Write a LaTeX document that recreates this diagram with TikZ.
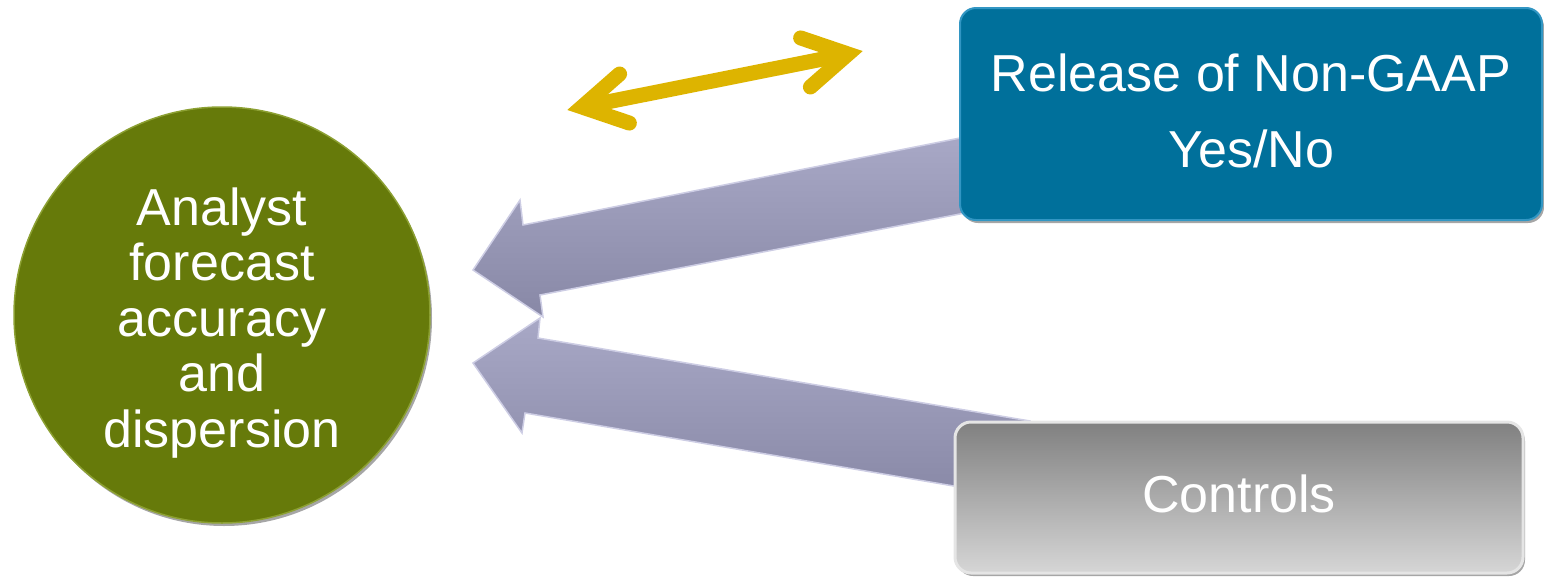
\documentclass[tikz,border=0pt]{standalone}
\usepackage{fontspec}
\setmainfont{Liberation Sans}
\usetikzlibrary{calc,shadows}
\definecolor{olivec}{RGB}{102,122,10}
\definecolor{oliverim}{RGB}{140,160,50}
\definecolor{bluec}{RGB}{0,112,155}
\definecolor{bluerim}{RGB}{50,150,195}
\definecolor{goldc}{RGB}{221,180,0}
\definecolor{lavtop}{RGB}{168,168,198}
\definecolor{lavbot}{RGB}{136,136,166}
\definecolor{lavrim}{RGB}{205,205,228}
\definecolor{graytop}{RGB}{128,128,128}
\definecolor{graybot}{RGB}{214,214,214}
\tikzset{
  bigtext/.style={text=white, align=center},
  boxshadow/.style={drop shadow={shadow xshift=2pt, shadow yshift=-3pt, fill=black, opacity=0.35}},
  blockarrow/.style={top color=lavtop, bottom color=lavbot, draw=lavrim, line width=1.5pt, line join=miter},
  goldline/.style={draw=goldc, line width=15pt},
  goldhead/.style={draw=goldc, line width=15pt, line cap=round, line join=miter, miter limit=10}
}
\begin{document}
\begin{tikzpicture}[x=1pt,y=-1pt]
\useasboundingbox (0,0) rectangle (1544,576);

% block arrows (behind the boxes)
\path[blockarrow] (965,137) -- (523,225) -- (520,200) -- (473,270) -- (543,317) -- (540,295) -- (965,213) -- cycle;
\path[blockarrow] (1030,421) -- (538,338) -- (540,318) -- (473,363) -- (522,433) -- (525,413) -- (1030,499) -- cycle;

% central circle
\node[circle, minimum size=416pt, inner sep=0pt, fill=olivec, draw=oliverim, line width=1.5pt, boxshadow,
      bigtext, font=\fontsize{52}{55.5}\selectfont] (c) at (222,315)
  {\rule{0pt}{53pt}Analyst\\forecast\\accuracy\\and\\dispersion};

% Non-GAAP box
\node[rectangle, rounded corners=16pt, minimum width=582pt, minimum height=212pt, fill=bluec,
      draw=bluerim, line width=2pt, boxshadow, bigtext, font=\fontsize{52}{76}\selectfont] (rel) at (1251,114)
  {Release of Non-GAAP\\Yes/No\rule[-6pt]{0pt}{6pt}};

% Controls box
\node[rectangle, rounded corners=16pt, minimum width=568pt, minimum height=151pt,
      top color=graytop, bottom color=graybot, draw=white!80!gray, line width=3pt, boxshadow,
      bigtext, font=\fontsize{52}{60}\selectfont] (ctrl) at (1239,497.5)
  {Controls\rule[-7pt]{0pt}{7pt}};

% double-headed gold arrow
\coordinate (ya) at (582,107);
\coordinate (yb) at (848,54);
\draw[goldline] (ya) -- (yb);
\draw[goldhead] ($(ya)!50pt!30:(yb)$) -- (ya) -- ($(ya)!50pt!-30:(yb)$);
\draw[goldhead] ($(yb)!50pt!30:(ya)$) -- (yb) -- ($(yb)!50pt!-30:(ya)$);
\end{tikzpicture}
\end{document}
